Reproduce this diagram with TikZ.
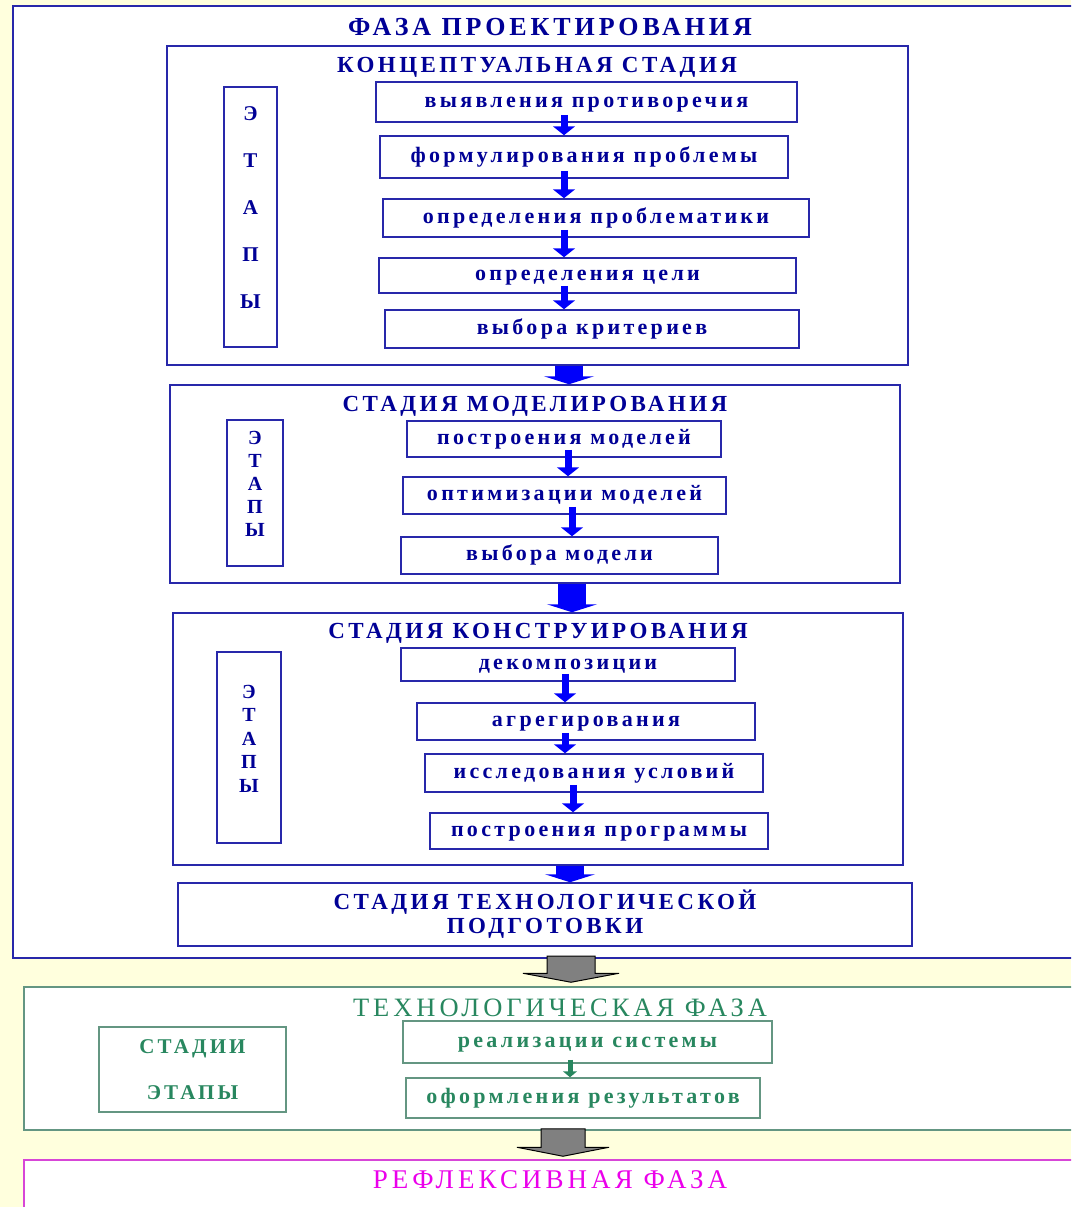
\documentclass[tikz,border=0pt]{standalone}
\usepackage{fontspec}
\usepackage{xcolor}
\usepackage{tikz}
\usetikzlibrary{positioning, arrows.meta, calc}
\newfontfamily\schemefont{Liberation Serif}[LetterSpace=15]
\definecolor{paleyellow}{RGB}{255,255,221}
\definecolor{frameblue}{RGB}{40,40,170}
\definecolor{textblue}{RGB}{0,0,150}
\definecolor{arrowblue}{RGB}{0,0,250}
\definecolor{techgreen}{RGB}{40,135,95}
\definecolor{techframe}{RGB}{100,150,130}
\definecolor{reflmagenta}{RGB}{235,0,235}
\definecolor{reflframe}{RGB}{215,70,215}

\begin{document}
\begin{tikzpicture}[
    x=1pt, y=-1pt,
    phasebox/.style={rectangle, draw=frameblue, line width=2pt, fill=white, inner sep=0pt},
    stagebox/.style={rectangle, draw=frameblue, line width=1.5pt, fill=white, inner sep=0pt},
    stepbox/.style={stagebox, text=textblue, text height=10pt, text depth=0pt,
        font=\schemefont\bfseries\fontsize{22}{24}\selectfont},
    etapbox/.style={stagebox, text=textblue, align=center, text depth=18pt},
    titletext/.style={text=textblue, inner sep=0pt, text height=15pt, text depth=0pt,
        font=\schemefont\bfseries\fontsize{23}{24}\selectfont},
    smallarrow/.style={arrowblue, line width=7pt, -{Triangle[width=22pt,length=9pt]}, shorten <=-8pt},
    bigarrow/.style={arrowblue, line width=28pt, -{Triangle[width=50pt,length=8pt]}},
    grayblock/.style={fill=gray, draw=black, line width=1pt},
    techbox/.style={rectangle, draw=techframe, line width=1.5pt, fill=white, inner sep=0pt, text=techgreen},
    techstep/.style={techbox, text height=10pt, text depth=0pt, font=\schemefont\bfseries\fontsize{22}{24}\selectfont},
    greenarrow/.style={techgreen, line width=5pt, -{Triangle[width=14pt,length=6pt]}, shorten <=-4pt}
]
    \useasboundingbox (0,0) rectangle (1071,1207);
    \clip (0,0) rectangle (1071,1207);
    \fill[paleyellow] (0,0) rectangle (1071,1207);

    % design phase
    \node[phasebox, minimum width=1067pt, minimum height=952pt] (design) at (546.5,482) {};
    \node[titletext, text height=17pt, font=\schemefont\bfseries\fontsize{26}{28}\selectfont] (designtitle) at (550,27) {ФАЗА ПРОЕКТИРОВАНИЯ};

    \node[stagebox, minimum width=741pt, minimum height=319pt] (concept) at (537.5,205.5) {};
    \node[titletext] (concepttitle) at (537,65) {КОНЦЕПТУАЛЬНАЯ СТАДИЯ};
    \node[etapbox, minimum width=53pt, minimum height=260pt, font=\schemefont\bfseries\fontsize{21}{47}\selectfont] (conceptetap) at (250.5,217) {Э\\Т\\А\\П\\Ы};
    \node[stepbox, minimum width=421pt, minimum height=40pt] (c1) at (586.5,102) {выявления противоречия};
    \node[stepbox, minimum width=408pt, minimum height=42pt] (c2) at (584,157) {формулирования проблемы};
    \node[stepbox, minimum width=426pt, minimum height=38pt] (c3) at (596,218) {определения проблематики};
    \node[stepbox, minimum width=417pt, minimum height=35pt] (c4) at (587.5,275.5) {определения цели};
    \node[stepbox, minimum width=414pt, minimum height=38pt] (c5) at (592,329) {выбора критериев};

    \node[stagebox, minimum width=730pt, minimum height=198pt] (model) at (535,484) {};
    \node[titletext] (modeltitle) at (535,404) {СТАДИЯ МОДЕЛИРОВАНИЯ};
    \node[etapbox, minimum width=56pt, minimum height=146pt, font=\schemefont\bfseries\fontsize{20}{23}\selectfont] (modeletap) at (255,493) {Э\\Т\\А\\П\\Ы};
    \node[stepbox, minimum width=314pt, minimum height=36pt] (m1) at (564,439) {построения моделей};
    \node[stepbox, minimum width=323pt, minimum height=37pt] (m2) at (564.5,495.5) {оптимизации моделей};
    \node[stepbox, minimum width=317pt, minimum height=37pt] (m3) at (559.5,555.5) {выбора модели};

    \node[stagebox, minimum width=730pt, minimum height=252pt] (constr) at (538,739) {};
    \node[titletext] (constrtitle) at (538,631) {СТАДИЯ КОНСТРУИРОВАНИЯ};
    \node[etapbox, minimum width=64pt, minimum height=191pt, font=\schemefont\bfseries\fontsize{20}{23.5}\selectfont] (constretap) at (249,747.5) {Э\\Т\\А\\П\\Ы};
    \node[stepbox, minimum width=334pt, minimum height=33pt] (k1) at (568,664.5) {декомпозиции};
    \node[stepbox, minimum width=338pt, minimum height=37pt] (k2) at (586,721.5) {агрегирования};
    \node[stepbox, minimum width=338pt, minimum height=38pt] (k3) at (594,773) {исследования условий};
    \node[stepbox, minimum width=338pt, minimum height=36pt] (k4) at (599,831) {построения программы};

    \node[stagebox, minimum width=734pt, minimum height=63pt, align=center, text=textblue,
        font=\schemefont\bfseries\fontsize{23}{24}\selectfont] (prep) at (545,914.5) {СТАДИЯ ТЕХНОЛОГИЧЕСКОЙ\\ПОДГОТОВКИ};

    \draw[smallarrow] (c1.south -| 564,0) -- (c2.north -| 564,0);
    \draw[smallarrow] (c2.south -| 564,0) -- (c3.north -| 564,0);
    \draw[smallarrow] (c3.south -| 564,0) -- (c4.north -| 564,0);
    \draw[smallarrow] (c4.south -| 564,0) -- (c5.north -| 564,0);
    \draw[smallarrow] (m1.south -| 568,0) -- (m2.north -| 568,0);
    \draw[smallarrow] (m2.south -| 572,0) -- (m3.north -| 572,0);
    \draw[smallarrow] (k1.south -| 565,0) -- (k2.north -| 565,0);
    \draw[smallarrow] (k2.south -| 565,0) -- (k3.north -| 565,0);
    \draw[smallarrow] (k3.south -| 573,0) -- (k4.north -| 573,0);

    \draw[bigarrow] (concept.south -| 569,0) -- (model.north -| 569,0);
    \draw[bigarrow] (model.south -| 572,0) -- (constr.north -| 572,0);
    \draw[bigarrow] (constr.south -| 570,0) -- (prep.north -| 570,0);

    % technological phase
    \node[techbox, minimum width=1056pt, minimum height=143pt] (tech) at (552,1058.5) {};
    \node[text=techgreen, inner sep=0pt, text height=17pt, text depth=0pt,
        font=\schemefont\fontsize{26.5}{28}\selectfont] (techtitle) at (560,1008) {ТЕХНОЛОГИЧЕСКАЯ ФАЗА};
    \node[techbox, minimum width=187pt, minimum height=85pt, align=center,
        font=\schemefont\bfseries\fontsize{21}{46}\selectfont] (techlevels) at (192.5,1069.5) {СТАДИИ\\ЭТАПЫ};
    \node[techstep, minimum width=369pt, minimum height=42pt] (t1) at (587.5,1042) {реализации системы};
    \node[techstep, minimum width=354pt, minimum height=40pt] (t2) at (583,1098) {оформления результатов};
    \draw[greenarrow] (t1.south -| 570,0) -- (t2.north -| 570,0);

    % reflexive phase
    \node[rectangle, draw=reflframe, line width=1.5pt, fill=white, minimum width=1056pt, minimum height=70pt] (refl) at (552,1195) {};
    \node[text=reflmagenta, inner sep=0pt, text height=17pt, text depth=0pt,
        font=\schemefont\fontsize{27}{28}\selectfont] (refltitle) at (550,1180) {РЕФЛЕКСИВНАЯ ФАЗА};

    \coordinate (ga) at (design.south -| 571,0);
    \coordinate (gb) at (tech.north -| 571,0);
    \draw[grayblock] ($(ga)+(-24,-3)$) -- ($(gb)+(-24,-13)$) -- ($(gb)+(-48,-13)$) -- ($(gb)+(0,-4)$)
        -- ($(gb)+(48,-13)$) -- ($(gb)+(24,-13)$) -- ($(ga)+(24,-3)$) -- cycle;
    \coordinate (gc) at (tech.south -| 563,0);
    \coordinate (gd) at (refl.north -| 563,0);
    \draw[grayblock] ($(gc)+(-22,-2)$) -- ($(gd)+(-22,-12)$) -- ($(gd)+(-46,-12)$) -- ($(gd)+(0,-3)$)
        -- ($(gd)+(46,-12)$) -- ($(gd)+(22,-12)$) -- ($(gc)+(22,-2)$) -- cycle;
\end{tikzpicture}
\end{document}
